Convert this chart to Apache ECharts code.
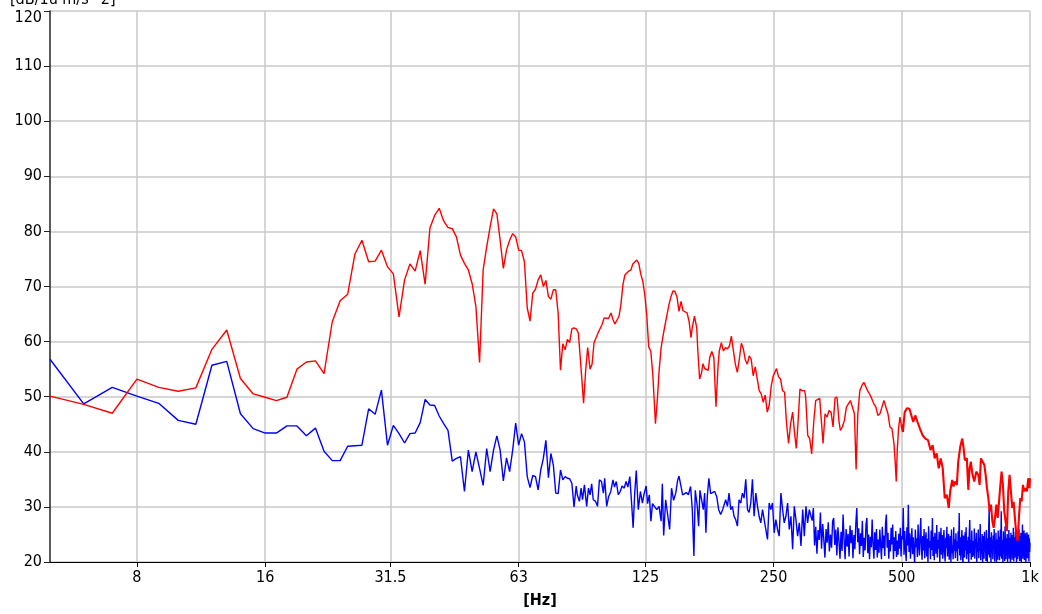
<!DOCTYPE html>
<html>
<head>
<meta charset="utf-8">
<title>Spectrum</title>
<script src="https://cdn.jsdelivr.net/npm/echarts@6/dist/echarts.min.js"></script>
<style>
  html, body { margin: 0; padding: 0; background: #ffffff; overflow: hidden; }
  #chart { width: 1042px; height: 614px; }
</style>
</head>
<body>
<div id="chart"></div>
<script>
// Octave-band tick positions on the frequency axis (Hz)
const freqTicks = [8, 16, 31.5, 63, 125, 250, 500, 1000];
const freqMin = 5;
const freqMax = 1000;
const levelMin = 20;
const levelMax = 120;
const levelStep = 10;

const yAxisTitle = '[dB/1u m/s^2]';
const xAxisTitle = '[Hz]';

// Red spectrum, [frequency Hz, level dB]
const redLow = [
  [5,50.1],[6,48.6],[7,47.0],[8,53.2],[9,51.7],[10,51.0],[11,51.6],[12,58.6],[13,62.1],[14,53.3],
  [15,50.5],[16,49.9],[17,49.3],[18,49.9],[19,55.0],[20,56.3],[21,56.5],[22,54.2],[23,63.6],[24,67.4],
  [25,68.6],[26,75.9],[27,78.4],[28,74.5],[29,74.6],[30,76.6],[31,73.6],[32,72.3],[33,64.5],[34,71.2],
  [35,74.1],[36,72.8],[37,76.5],[38,70.4],[39,80.6],[40,82.9],[41,84.2],[42,81.9],[43,80.7],[44,80.5],
  [45,79.0],[46,75.7],[47,74.2],[48,73.0],[49,70.5],[50,66.4],[51,56.2],[52,73.0],[53,77.2],[54,80.8],
  [55,84.1],[56,83.2],[57,78.4],[58,73.3],[59,76.6],[60,78.4],[61,79.6],[62,79.0],[63,76.6],[64,76.5],
  [65,74.5],[66,66.1],[67,63.7],[68,68.8],[69,69.5],[70,71.2],[71,72.1],[72,70.0],[73,71.1],[74,68.2],
  [75,67.7],[76,69.4],[77,69.4],[78,65.2],[79,54.8],[80,59.6],[81,58.5],[82,60.4],[83,59.8],[84,62.3],
  [85,62.5],[86,62.3],[87,61.6]
];
const redMid = [
  [87.9,57.1],[89.5,48.8],[90.5,54.7],[91.5,58.9],[92.7,55.0],[93.7,55.9],[94.7,59.8],[96.8,61.6],[98.9,63.1],[100,64.3],
  [102.4,64.2],[103.8,65.2],[104.9,64.0],[106,63.2],[108.4,64.6],[109.5,66.7],[110.7,70.3],[111.9,72.1],[114.3,72.8],[115.6,73.0],
  [116.8,74.1],[119.3,74.8],[120.6,74.2],[121.9,72.3],[123.3,70.9],[124.6,68.5],[125.9,64.9],[127.3,59.0],[128.7,58.3],[130.1,54.1],
  [132,45.1],[133.4,49.6],[134.6,54.6],[136.1,58.9],[137.5,61.0],[139,63.0],[140.5,63.2],[142,66.7],[143.6,68.2],[145.1,69.2],
  [146.7,69.1],[148.3,68.1],[149.9,65.5],[151.6,67.3],[153.2,65.6],[156.6,65.2],[158.3,63.7],[160,60.7],[161,62.5],[163,64.6],
  [165,62.5],[166,58.3],[167.6,53.2],[169.4,54.4],[170.6,56.0],[172.2,55.1],[174,55.4],[175.6,54.8],[177,57.1],[179,58.2],
  [181,57.1],[183.1,48.2],[185.1,55.4],[186.4,58.3],[188.5,59.8],[190.6,58.3],[192.7,58.9],[194.8,58.7],[196.9,59.2],[199,61.0],
  [201.2,58.3],[203.3,55.9],[205.5,54.4],[207.7,56.8],[210,59.7],[212.3,58.7],[214.5,56.7],[216.9,55.9],[219.2,57.4],[221.5,56.8],
  [223.9,53.8],[226.4,55.4],[228.8,55.3],[231.3,51.1],[233.8,50.5],[236.4,49.0],[239,50.3],[241.6,47.2],[244.2,48.5],[246.9,52.0],
  [249.6,53.8],[252.3,54.1],[254,55.1],[256.8,53.6],[259.6,53.2],[262.4,51.1],[265.3,50.8],[268.2,45.1],[271.1,41.5],[274.1,45.1],
  [277.1,47.2],[280.1,43.3],[282.7,40.6],[285.2,45.1],[288.3,51.4],[291.5,51.1],[295.8,51.1],[297.4,49.9],[300.7,43.0],[303.9,42.4]
];
const redHigh = [
  [307.2,39.6],[310.6,45.4],[313.9,49.3],[317.3,49.5],[320.8,49.7],[323.1,49.8],[326.6,41.5],[330.2,46.9],[333.8,46.3],[337.4,47.5],
  [341.1,47.2],[344.8,44.5],[348.5,49.8],[352.3,49.9],[356.2,45.4],[358.7,43.9],[362.6,44.5],[366.6,45.7],[370.6,48.1],[374.6,48.7],
  [378.7,49.3],[382.8,49.3],[387,46.9],[390.6,36.8],[394.2,46.9],[398.5,51.1],[402.9,52.0],[407.3,52.6],[411.7,52.3],[416.2,51.0],
  [420.7,50.4],[425.3,49.6],[429.9,48.7],[434.7,48.1],[439.4,46.6],[444.2,46.9],[449.1,48.1],[454,49.3],[458.9,48.1],[464,46.9],
  [469,44.5],[474.1,44.2],[479.3,41.5],[482.7,37.9],[485.2,34.6],[487.9,40.3],[491.3,44.2],[495,46.3],[498.6,45.0]
];
// Upper band, drawn with a heavier stroke where the trace is densely sampled
const redTop = [
  [498.6,45.0],[503,43.6],
  [508,47.2],[514,47.9],[521,47.8],[526,47.7],[532,45.4],[537.8,46.6],[543.7,45.5],[551.6,44.2],[559.5,43.0],[567.9,42.4],
  [576.2,42.1],[584.4,40.3],[590.8,41.2],[597.3,38.8],[603.8,39.7],[610.4,37.0],[617.1,38.8],[623.9,37.0],[630.7,31.6],[637.6,32.2],
  [644.6,29.8],[649.5,32.8],[656.6,34.9],[661.3,33.7],[666,34.6],[673.3,34.0],[678.4,38.2],[685.8,40.9],[693.3,42.4],[698.2,40.7],
  [703.1,38.5],[710.8,38.8],[716.3,33.1],[721.3,37.0],[726.4,38.2],[731.9,36.1],[739.9,34.6],[748,36.4],[756.2,35.8],[761.6,34.0],
  [767,38.8],[772.8,39.1],[781.3,37.6],[786.8,35.8],[792.4,33.4],[798.4,31.6],[804.1,29.2],[809.8,30.4],[815.9,27.4],[821.7,26.2],
  [827.5,28.0],[833.8,30.4],[839.7,28.0],[845.8,30.9],[852.1,34.0],[857.6,36.4],[863.7,34.0],[870.1,29.2],[876.2,27.4],[882.6,25.6],
  [889.1,32.8],[895.5,35.8],[901.9,32.8],[908.7,29.8],[915.2,30.9],[921.7,28.0],[928.7,25.0],[935.2,23.8],[941.8,28.0],[948.7,31.6],
  [955.9,31.0],[962.6,34.0],[969.6,32.8],[976.5,33.4],[983.4,32.8],[990.6,35.2],[997,33.4],[1000,35.2]
];

// Blue spectrum, [frequency Hz, level dB]
const blueLow = [
  [5,56.8],[6,48.7],[7,51.7],[8,50.1],[9,48.8],[10,45.7],[11,45.0],[12,55.7],[13,56.4],[14,46.9],
  [15,44.2],[16,43.4],[17,43.4],[18,44.7],[19,44.7],[20,42.9],[21,44.3],[22,40.1],[23,38.4],[24,38.4],
  [25,41.0],[26,41.1],[27,41.2],[28,47.8],[29,46.8],[30,51.2],[31,41.2],[32,44.8],[33,43.3],[34,41.6],
  [35,43.3],[36,43.4],[37,45.3],[38,49.5],[39,48.5],[40,48.4],[41,46.5],[42,45.1],[43,43.9],[44,38.3],
  [45,38.8],[46,39.1],[47,32.8],[48,40.3],[49,36.4],[50,40.0],[51,37.0],[52,33.9],[53,40.6],[54,36.4],
  [55,40.3],[56,42.9],[57,40.3],[58,34.7],[59,38.9],[60,36.4],[61,40.3],[62,45.2],[63,41.2],[64,43.3],
  [65,41.8],[66,35.5],[67,33.5],[68,35.7],[69,35.5],[70,33.1],[71,36.7],[72,38.8],[73,42.1],[74,35.3],
  [75,39.7],[76,37.6],[77,32.5],[78,32.4]
];
const blueMid = [
  [79,36.7],[80,34.9],[81,35.5],[82,35.2],[83,35.1],[84,34.3],[85,30.0],[86,33.8],[86.5,32.2],[87.5,31.0],
  [88.3,33.4],[89,31.3],[89.9,34.0],[91,30.1],[91.9,33.4],[92.7,32.2],[93.5,34.2],[94.3,31.3],[95.5,31.0],[96.5,30.1],
  [97.5,34.9],[98.6,34.6],[99.6,32.5],[100.3,35.2],[101.4,30.1],[102.5,31.9],[103.7,32.8],[104.9,34.9],[105.8,33.6],[106.8,34.6],
  [108,32.2],[109.1,32.8],[110.2,33.8],[111.5,33.4],[112.6,34.6],[113.7,33.6],[114.9,35.5],[115.9,31.3],[117,26.2],[118,32.5],
  [119,36.6],[120.3,29.5],[121.7,32.8],[123,30.7],[124,32.2],[125.5,33.8],[126.5,30.6],[127.7,32.2],[128.8,27.4],[129.9,30.6],
  [131.3,30.6],[132.9,29.5],[134.6,30.1],[136.1,27.4],[137,34.2],[138,24.8],[139.5,31.3],[141,31.0],[142.5,25.9],[144,33.4],
  [145.6,31.2],[147.3,32.5],[148.8,34.8],[149.9,35.6],[151.6,33.7],[152.9,32.2],[154.3,31.9],[156,32.6],[157.7,32.2],[159.6,33.7],
  [161.1,29.5],[162.5,21.1],[163.7,33.0],[165.5,30.1],[166.7,26.5],[167.9,33.0],[169.4,32.7],[171,29.5],[172.2,32.5],[173.4,25.3],
  [174.7,31.9],[176.2,35.2],[177.9,32.4],[179.8,32.2],[181.8,32.8],[183.8,31.9],[185.8,29.5],[187.8,28.6],[189.8,29.5],[191.2,29.2],
  [193,31.3],[194.8,30.1],[196.5,32.5],[198.3,29.5],[200.1,30.1],[201.9,28.3],[203.7,27.7],[205.6,26.5],[207.4,31.3],[209.3,30.7],
  [211.2,32.5],[213.1,31.6],[215.1,35.0],[217.1,29.5],[219,29.0],[221,30.7],[223,35.0],[225,28.3],[227.1,32.5],[229.2,30.1],
  [231.2,28.3],[233.3,27.1],[235.5,29.5],[237.6,29.5],[239.7,25.9],[241.9,24.1],[244.1,30.7],[246.3,29.5],[248.5,30.7],[250.8,25.3],
  [253.1,27.7],[255.4,25.9],[257.7,24.7],[260.1,32.5],[262.5,29.5],[264.8,27.1],[267.2,28.3],[269.7,30.7],[272.1,25.9],[274.6,28.3],
  [277.1,22.3],[279.6,30.1],[282.1,27.7],[284.7,24.7],[287.3,27.1],[289.9,22.9],[292.6,29.5],[295.2,24.7],[297.8,30.1],[300.5,27.1],
  [303.3,29.5],[306,28.3]
];
const blueHigh = [
  [308,27.5],[310,29.8],[312,23.0],[314,26.4],[316,21.5],[318,25.8],[320,24.0],[322,29.0],[324,22.4],[326,26.9],
  [328,24.1],[330,20.8],[332,26.0],[334,23.5],[336,27.2],[338,21.9],[340,25.0],[342,22.6],[344,27.4],[346,28.0],
  [348,23.1],[350,25.9],[352,21.2],[354,26.3],[356,23.8],[358,20.6],[360,25.5],[362,22.0],[364,28.6],[366,24.2],
  [368,20.5],[370,26.0],[372,22.8],[374,25.1],[376,21.0],[378,26.6],[380,23.4],[382,25.8],[384,20.7],[386,24.9],
  [388,22.3],[390,27.0],[392,29.8],[394,23.6],[396,26.1],[398,21.4],[400,25.2],[402,22.9],[404,27.5],[406,20.9],
  [408,24.4],[410,22.1],[412,26.8],[414,28.0],[416,21.6],[418,25.0],[420,20.5],[422,24.6],[424,22.7],[426,27.7],
  [428,23.3],[430,20.6],[432,25.4],[434,22.2],[436,26.0],[438,20.8],[440,24.1],[442,21.7],[444,25.9],[446,23.0],
  [448,20.5],[450,26.4],[452,22.5],[454,24.8],[456,21.1],[458,27.0],[460,28.6],[462,22.6],[464,25.3],[466,20.6],
  [468,24.0],[470,21.9],[472,26.2],[474,23.2],[476,26.8],[478,20.5],[480,24.5],[482,22.0],[484,25.6],[486,20.9],
  [488,23.9],[490,21.3],[492,25.1],[494,22.4],[496,26.2],[498,21.0],[500,24.7]
];
const blueTop = [
  [502,24.1],[504,29.8],[506,21.3],[508,25.6],[510,22.4],[512,20.2],[514,26.3],[516,23.0],[518,30.4],[520,21.8],
  [522,25.2],[524,20.6],[526,23.7],[528,26.1],[530,21.4],[532,24.5],[534,22.0],[536,19.8],[538,25.9],[540,22.7],
  [542,24.3],[544,20.9],[546,26.8],[548,23.1],[550,21.2],[552,25.0],[554,28.0],[556,22.3],[558,20.4],[560,24.7],
  [562,22.1],[564,26.0],[566,20.7],[568,23.9],[570,25.4],[572,21.0],[574,24.2],[576,19.9],[578,26.5],[580,22.6],
  [582,23.8],[584,20.5],[586,25.7],[588,22.2],[590,28.0],[592,21.1],[594,24.6],[596,20.3],[598,25.3],[600,22.9],
  [602,21.5],[604,26.7],[606,20.8],[608,24.0],[610,22.4],[612,25.5],[614,19.8],[616,23.6],[618,26.2],[620,21.3],
  [622,24.9],[624,20.6],[626,23.2],[628,25.8],[630,21.7],[632,20.1],[634,24.4],[636,22.5],[638,26.4],[640,21.0],
  [642,23.5],[644,25.1],[646,20.4],[648,22.8],[650,24.7],[652,19.9],[654,25.9],[656,21.6],[658,23.0],[660,20.5],
  [662,26.3],[664,22.0],[666,24.1],[668,20.7],[670,25.2],[672,21.9],[674,23.7],[676,20.2],[678,25.6],[680,22.4],
  [682,28.9],[684,21.2],[686,24.5],[688,20.3],[690,23.3],[692,25.8],[694,21.5],[696,19.7],[698,24.8],[700,22.6],
  [702,20.8],[704,25.4],[706,22.1],[708,26.3],[710,20.5],[712,23.9],[714,21.4],[716,24.6],[718,19.8],[720,25.0],
  [722,27.6],[724,21.6],[726,24.0],[728,20.4],[730,25.7],[732,22.3],[734,20.9],[736,23.8],[738,21.2],[740,26.1],
  [742,20.6],[744,24.2],[746,22.5],[748,25.3],[750,19.9],[752,23.4],[754,21.8],[756,25.9],[758,20.7],[760,24.4],
  [762,22.0],[764,26.9],[766,20.3],[768,23.6],[770,21.5],[772,25.1],[774,19.8],[776,24.7],[778,22.2],[780,20.6],
  [782,25.5],[784,21.9],[786,23.8],[788,20.2],[790,25.8],[792,22.6],[794,19.9],[796,24.3],[798,21.3],[800,26.3],
  [802,29.8],[804,20.8],[806,24.5],[808,22.1],[810,19.7],[812,25.4],[814,21.6],[816,23.9],[818,20.5],[820,24.8],
  [822,22.3],[824,26.0],[826,20.1],[828,23.5],[830,21.8],[832,25.3],[834,19.8],[836,24.1],[838,22.5],[840,20.4],
  [842,25.7],[844,21.2],[846,24.6],[848,20.3],[850,23.2],[852,25.9],[854,21.0],[856,29.2],[858,20.6],[860,24.0],
  [862,22.4],[864,19.8],[866,25.6],[868,21.7],[870,23.9],[872,20.2],[874,26.5],[876,22.1],[878,20.5],[880,24.3],
  [882,21.4],[884,25.1],[886,19.9],[888,23.6],[890,22.0],[892,25.8],[894,20.6],[896,24.4],[898,21.5],[900,19.7],
  [902,25.3],[904,22.2],[906,24.9],[908,20.4],[910,23.1],[912,21.7],[914,26.2],[916,20.1],[918,24.5],[920,22.3],
  [922,20.8],[924,25.5],[926,21.4],[928,23.8],[930,19.8],[932,25.0],[934,22.6],[936,20.5],[938,24.2],[940,21.1],
  [942,26.0],[944,22.4],[946,20.2],[948,24.7],[950,21.6],[952,25.3],[954,19.9],[956,23.5],[958,22.0],[960,26.8],
  [962,20.6],[964,24.1],[966,21.9],[968,25.7],[970,20.3],[972,23.4],[974,22.2],[976,25.2],[978,19.8],[980,24.6],
  [982,21.5],[984,25.4],[986,20.7],[988,23.9],[990,22.3],[992,25.0],[994,20.1],[996,24.3],[998,21.8],[1000,23.5]
];

const FONT = "'DejaVu Sans Condensed', 'Liberation Sans', Arial, sans-serif";
const RED = '#ff0000';
const BLUE = '#0000ff';

const chart = echarts.init(document.getElementById('chart'), null, { renderer: 'canvas' });

function freqLabel(v) {
  const r = Math.round(v * 10) / 10;
  return r >= 1000 ? (r / 1000) + 'k' : String(r);
}

// The topmost level label sits just below its tick so it stays inside the canvas
function levelLabel(v) {
  return v >= levelMax ? '{top|' + v + '}' : String(v);
}

function trace(name, data, color, width) {
  return {
    name: name,
    type: 'line',
    data: data,
    showSymbol: false,
    clip: true,
    lineStyle: { color: color, width: width },
    itemStyle: { color: color }
  };
}

chart.setOption({
  animation: false,
  backgroundColor: '#ffffff',
  grid: { left: 50, top: 11, width: 980, height: 555, containLabel: false },
  graphic: [{
    type: 'text',
    left: 10,
    top: -8,
    style: { text: yAxisTitle, font: '16px ' + FONT, fill: '#000000' }
  }],
  xAxis: {
    type: 'log',
    logBase: 10,
    min: freqMin,
    max: freqMax,
    name: xAxisTitle,
    nameLocation: 'middle',
    nameGap: 31,
    nameTextStyle: { fontFamily: FONT, fontSize: 16, fontWeight: 'bold', color: '#000000' },
    axisLine: { show: true, lineStyle: { color: '#000000', width: 1.2 } },
    axisTick: { show: true, length: 5, customValues: freqTicks, lineStyle: { color: '#000000', width: 1 } },
    axisLabel: { customValues: freqTicks, margin: 8, fontFamily: FONT, fontSize: 16, color: '#000000', formatter: freqLabel },
    splitLine: { show: true, lineStyle: { color: '#c8c8c8', width: 1.5 } },
    minorTick: { show: false },
    minorSplitLine: { show: false }
  },
  yAxis: {
    type: 'value',
    min: levelMin,
    max: levelMax,
    interval: levelStep,
    axisLine: { show: true, lineStyle: { color: '#222222', width: 1.5 } },
    axisTick: { show: true, length: 6, lineStyle: { color: '#222222', width: 1 } },
    axisLabel: {
      margin: 8, fontFamily: FONT, fontSize: 16, color: '#000000',
      formatter: levelLabel,
      rich: { top: { fontFamily: FONT, fontSize: 16, color: '#000000', padding: [13, 0, 0, 0] } }
    },
    splitLine: { show: true, lineStyle: { color: '#c8c8c8', width: 1.5 } }
  },
  series: [
    trace('blue', blueLow.concat(blueMid, blueHigh, blueTop), BLUE, 1.4),
    trace('red', redLow.concat(redMid, redHigh), RED, 1.4),
    trace('red-upper', redTop, RED, 2.1)
  ]
});
</script>
</body>
</html>
